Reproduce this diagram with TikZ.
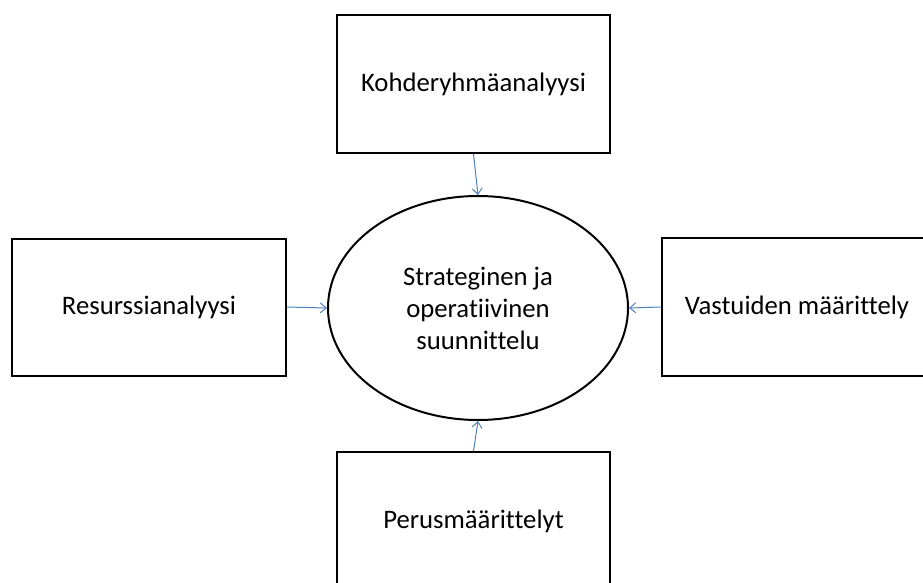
\documentclass[tikz,border=0pt]{standalone}
\usepackage{fontspec}
\setmainfont{Carlito}[Ligatures={NoCommon}]
\usetikzlibrary{shapes.geometric,arrows.meta}
\definecolor{linkblue}{HTML}{4F81BD}
\tikzset{
  box/.style={draw=black,line width=2pt,rectangle,minimum width=273pt,minimum height=138pt,inner sep=0pt,font=\fontsize{26.7}{32}\selectfont},
  oval/.style={draw=black,line width=2pt,ellipse,minimum width=300pt,minimum height=224pt,inner sep=0pt,align=center,font=\fontsize{26.7}{32}\selectfont},
  link/.style={draw=linkblue,line width=1pt,-{Straight Barb[length=6pt,width=10pt]}}
}
\begin{document}
\begin{tikzpicture}[x=1pt,y=-1pt]
\useasboundingbox (0,0) rectangle (923,583);
\node[oval] (suunn) at (478,308) {Strateginen ja\\operatiivinen\\suunnittelu};
\node[box] (kohde) at (473.5,84) {Kohderyhmäanalyysi};
\node[box,minimum width=274pt,minimum height=137pt] (resurssi) at (149,307) {Resurssianalyysi};
\node[box,minimum width=270pt] (vastuu) at (797,307) {Vastuiden määrittely};
\node[box] (perus) at (473.5,521) {Perusmäärittelyt};
\draw[link] (kohde.south) -- (suunn.north);
\draw[link] (resurssi.east) -- (suunn.west);
\draw[link] (vastuu.west) -- (suunn.east);
\draw[link] (perus.north) -- (suunn.south);
\end{tikzpicture}
\end{document}
